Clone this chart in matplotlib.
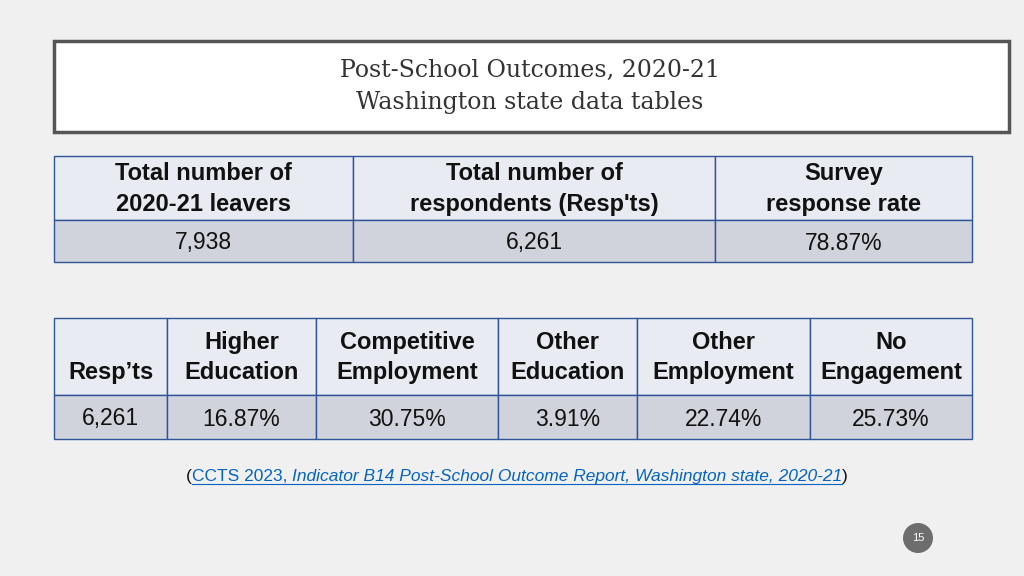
import matplotlib.pyplot as plt
from matplotlib.patches import Rectangle, Circle

title_lines = ["Post-School Outcomes, 2020-21", "Washington state data tables"]

t1_headers = ["Total number of\n2020-21 leavers", "Total number of\nrespondents (Resp'ts)", "Survey\nresponse rate"]
t1_values = ["7,938", "6,261", "78.87%"]

t2_headers = ["\nResp\u2019ts", "Higher\nEducation", "Competitive\nEmployment", "Other\nEducation",
              "Other\nEmployment", "No\nEngagement"]
t2_values = ["6,261", "16.87%", "30.75%", "3.91%", "22.74%", "25.73%"]

cite_parts = [("(", False), ("CCTS 2023, ", True),
              ("Indicator B14 Post-School Outcome Report, Washington state, 2020-21", True), (")", False)]

HEAD_FILL = "#e9ebf2"
DATA_FILL = "#d0d2dc"
EDGE = "#2f5597"
LINK = "#0563c1"

fig = plt.figure(figsize=(10.24, 5.76), dpi=100)
fig.patch.set_facecolor("#f0f0f0")
ax = fig.add_axes([0, 0, 1, 1])
ax.set_xlim(0, 1024)
ax.set_ylim(576, 0)
ax.axis("off")

# title box
ax.add_patch(Rectangle((54, 41), 955, 91, facecolor="white", edgecolor="#555555", lw=2.5))
ax.text(530, 70, title_lines[0], ha="center", va="center", fontsize=17, family="DejaVu Serif", color="#333333")
ax.text(530, 103, title_lines[1], ha="center", va="center", fontsize=17, family="DejaVu Serif", color="#333333")


def draw_table(xs, y0, y1, y2, headers, values):
    for i in range(len(headers)):
        x0, x1 = xs[i], xs[i + 1]
        ax.add_patch(Rectangle((x0, y0), x1 - x0, y1 - y0, facecolor=HEAD_FILL, edgecolor=EDGE, lw=1))
        ax.add_patch(Rectangle((x0, y1), x1 - x0, y2 - y1, facecolor=DATA_FILL, edgecolor=EDGE, lw=1))
        ax.text((x0 + x1) / 2, (y0 + y1) / 2 + 1, headers[i], ha="center", va="center", fontsize=17,
                family="Liberation Sans", weight="bold", color="#111111", linespacing=1.4)
        ax.text((x0 + x1) / 2, (y1 + y2) / 2 + 2, values[i], ha="center", va="center", fontsize=16.5,
                family="Liberation Sans", color="#111111")


draw_table([54, 353, 715, 972], 156, 220, 262, t1_headers, t1_values)
draw_table([54, 167, 316, 498, 637, 810, 972], 318, 395, 439, t2_headers, t2_values)

# citation
fig.canvas.draw()
r = fig.canvas.get_renderer()
texts = []
for s, link in cite_parts:
    t = ax.text(0, 481, s, ha="left", va="baseline", fontsize=12.5, family="Liberation Sans",
                color=LINK if link else "#111111", style="italic" if "Indicator" in s else "normal")
    texts.append(t)
widths = [t.get_window_extent(r).width for t in texts]
x = 517 - sum(widths) / 2
for (s, link), t, w in zip(cite_parts, texts, widths):
    t.set_x(x)
    if link:
        ax.plot([x, x + w], [484, 484], color=LINK, lw=0.8)
    x += w

# page number
ax.add_patch(Circle((918, 538), 15, facecolor="#6d6d6d", edgecolor="none"))
ax.text(918, 538, "15", ha="center", va="center", fontsize=8, color="white", family="Liberation Sans")

fig.savefig("out.png", dpi=100, facecolor=fig.get_facecolor())
